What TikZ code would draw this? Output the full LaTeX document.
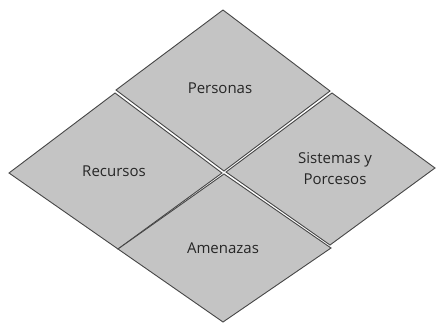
\documentclass[tikz,border=0pt]{standalone}
\usepackage{fontspec}
\setmainfont{Open Sans}
\definecolor{tilefill}{RGB}{196,196,196}
\definecolor{tileedge}{RGB}{70,70,70}
\tikzset{
  tile/.style={fill=tilefill, draw=tileedge, line width=0.9pt, line join=miter},
  lbl/.style={font=\fontsize{15}{21}\selectfont, text=black!85, align=center, inner sep=0pt}
}
\begin{document}
\begin{tikzpicture}[x=1pt,y=-1pt]
\useasboundingbox[fill=white] (0,0) rectangle (436,324);
% Personas
\draw[tile] (223,10) -- (116,90) -- (224,171) -- (330,91) -- cycle;
% Recursos
\draw[tile] (115,93) -- (9,173) -- (118,249) -- (222,173) -- cycle;
% Sistemas y Porcesos
\draw[tile] (332,93) -- (226,172) -- (330,245) -- (435,168) -- cycle;
% Amenazas
\draw[tile] (224,174) -- (118,249) -- (223,322) -- (331,248) -- cycle;
\node[lbl] (personas) at (220,88) {Personas};
\node[lbl] (recursos) at (114,171) {Recursos};
\node[lbl] (sistemas) at (335,169) {Sistemas y\\Porcesos};
\node[lbl] (amenazas) at (223,248) {Amenazas};
\end{tikzpicture}
\end{document}
